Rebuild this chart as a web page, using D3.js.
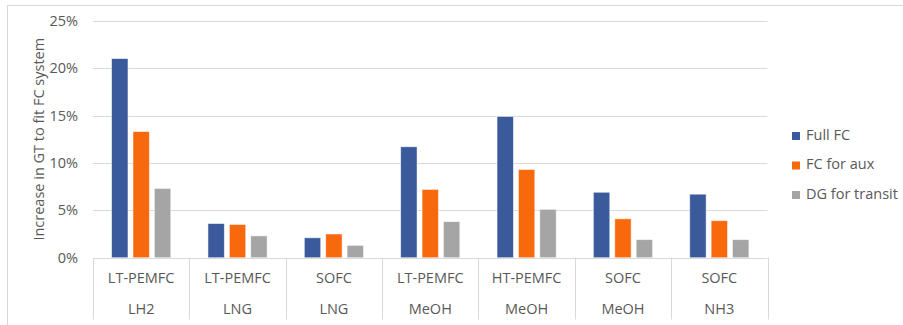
<!DOCTYPE html>
<html>
<head>
<meta charset="utf-8">
<script src="https://cdn.jsdelivr.net/npm/d3@7"></script>
<style>
  html, body { margin: 0; padding: 0; background: #fff; }
  svg { display: block; }
  text { font-family: "Open Sans", "Noto Sans", sans-serif; fill: #595959; }
</style>
</head>
<body>
<svg id="chart" width="903" height="325"></svg>
<script>
// ---- data ----
const technologies = ["LT-PEMFC", "LT-PEMFC", "SOFC", "LT-PEMFC", "HT-PEMFC", "SOFC", "SOFC"];
const fuels = ["LH2", "LNG", "LNG", "MeOH", "MeOH", "MeOH", "NH3"];
const seriesNames = ["Full FC", "FC for aux", "DG for transit"];
const fullFC = [21.0, 3.6, 2.1, 11.7, 14.9, 6.9, 6.7];
const fcForAux = [13.3, 3.5, 2.5, 7.2, 9.3, 4.1, 3.9];
const dgForTransit = [7.3, 2.3, 1.3, 3.8, 5.1, 1.9, 1.9];
const yTicks = [0, 5, 10, 15, 20, 25];
const colors = ["#3B5A9B", "#F8690E", "#A5A5A5"];

const seriesValues = [fullFC, fcForAux, dgForTransit];
const categories = technologies.map((t, i) => i);

const svg = d3.select("#chart");
const margin = { left: 93, right: 135.5, top: 20.7, bottom: 67.3 };
const W = 903, H = 325;
const x0 = margin.left, x1 = W - margin.right;
const yTop = margin.top, yBottom = H - margin.bottom;

// outer border
svg.append("rect").attr("x", 7.5).attr("y", 5.5).attr("width", W).attr("height", H)
  .attr("fill", "none").attr("stroke", "#d9d9d9").attr("stroke-width", 1);

const x = d3.scaleBand().domain(categories).range([x0, x1]).paddingInner(0).paddingOuter(0);
const xs = d3.scaleBand().domain(d3.range(seriesNames.length))
  .range([0, x.bandwidth()]).paddingInner(0.235).paddingOuter(0.87);
const y = d3.scaleLinear().domain([0, 25]).range([yBottom, yTop]);

// gridlines
svg.append("g").selectAll("line").data(yTicks.filter(d => d > 0)).join("line")
  .attr("x1", x0).attr("x2", x1)
  .attr("y1", d => Math.round(y(d)) + 0.5).attr("y2", d => Math.round(y(d)) + 0.5)
  .attr("stroke", "#d9d9d9").attr("stroke-width", 1);

// y axis labels
const yAxis = d3.axisLeft(y).tickValues(yTicks).tickFormat(d => d + "%").tickSize(0).tickPadding(15);
const yg = svg.append("g").attr("transform", `translate(${x0},0)`).call(yAxis);
yg.select(".domain").remove();
yg.selectAll("text").style("font-size", "14.5px").attr("fill", "#595959")
  .style("font-family", '"Open Sans", sans-serif');

// bars
const groups = svg.append("g").selectAll("g").data(categories).join("g")
  .attr("transform", d => `translate(${x(d)},0)`);
groups.selectAll("rect").data(i => seriesValues.map((s, k) => ({ k, v: s[i] }))).join("rect")
  .attr("x", d => xs(d.k))
  .attr("width", xs.bandwidth())
  .attr("y", d => y(d.v))
  .attr("height", d => y(0) - y(d.v))
  .attr("fill", d => colors[d.k])
  .attr("stroke", "#ffffff").attr("stroke-opacity", 0.6).attr("stroke-width", 0.8);

// x axis line and category separators
svg.append("line").attr("x1", x0).attr("x2", x1)
  .attr("y1", Math.round(yBottom) + 0.5).attr("y2", Math.round(yBottom) + 0.5)
  .attr("stroke", "#d9d9d9").attr("stroke-width", 1);
const seps = categories.map(c => x(c)).concat([x1]);
svg.append("g").selectAll("line").data(seps).join("line")
  .attr("x1", d => Math.round(d) + 0.5).attr("x2", d => Math.round(d) + 0.5)
  .attr("y1", yBottom).attr("y2", 319.5)
  .attr("stroke", "#d9d9d9").attr("stroke-width", 1);

// category labels (two levels)
const lab = svg.append("g");
lab.selectAll("text.t").data(categories).join("text").attr("class", "t")
  .attr("x", d => x(d) + x.bandwidth() / 2).attr("y", 279)
  .attr("text-anchor", "middle").attr("dominant-baseline", "middle")
  .style("font-size", "14.5px").text(d => technologies[d]);
lab.selectAll("text.f").data(categories).join("text").attr("class", "f")
  .attr("x", d => x(d) + x.bandwidth() / 2).attr("y", 310)
  .attr("text-anchor", "middle").attr("dominant-baseline", "middle")
  .style("font-size", "14.5px").text(d => fuels[d]);

// y axis title
svg.append("text")
  .attr("transform", `translate(40,${(yTop + yBottom) / 2 + 0}) rotate(-90)`)
  .attr("text-anchor", "middle").attr("dominant-baseline", "middle")
  .style("font-size", "14.5px").text("Increase in GT to fit FC system");

// legend
const leg = svg.append("g").selectAll("g").data(seriesNames).join("g")
  .attr("transform", (d, i) => `translate(792,${136 + i * 29.5})`);
leg.append("rect").attr("x", 0).attr("y", -4).attr("width", 8).attr("height", 8)
  .attr("fill", (d, i) => colors[i]);
leg.append("text").attr("x", 14).attr("y", 0).attr("dominant-baseline", "middle")
  .style("font-size", "14.5px").text(d => d);
</script>
</body>
</html>
